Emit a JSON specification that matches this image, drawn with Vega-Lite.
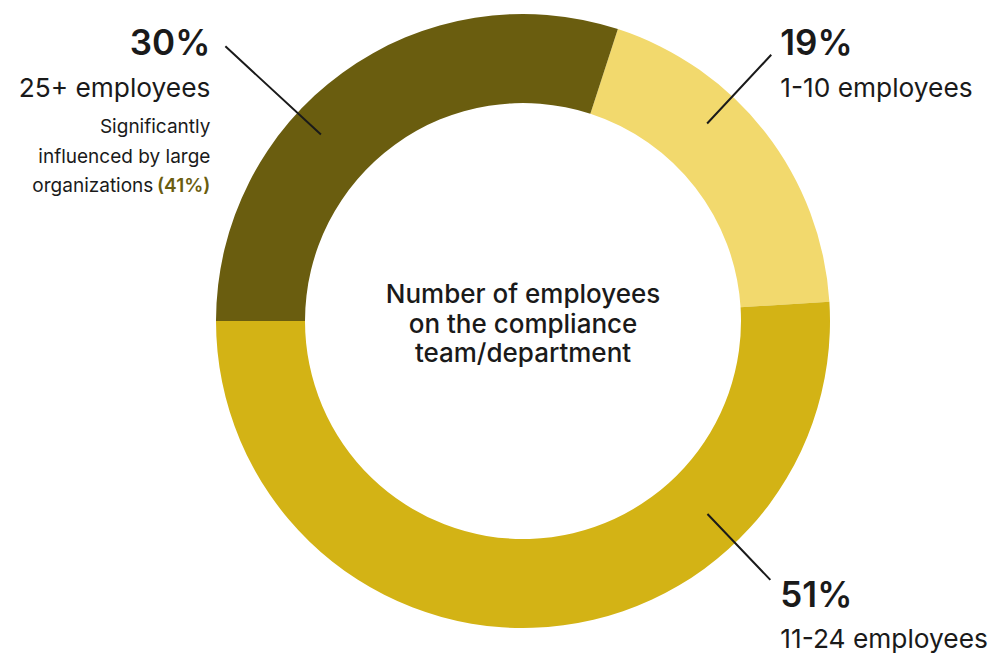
{
  "$schema": "https://vega.github.io/schema/vega-lite/v6.json",
  "autosize": {"type": "none"},
  "width": 934,
  "height": 642,
  "padding": {"left": 56, "top": 0, "right": 1, "bottom": 12},
  "background": "white",
  "config": {"view": {"stroke": null}, "text": {"font": "Inter", "color": "#1a1a1a"}},
  "data": {
    "values": [
      {"group": "1-10 employees", "share": 0.19, "order": 1},
      {"group": "11-24 employees", "share": 0.51, "order": 2},
      {"group": "25+ employees", "share": 0.30, "order": 3, "note": ["Significantly", "influenced by large"], "noteEnd": "organizations", "noteShare": "(41%)"}
    ]
  },
  "transform": [
    {"stack": "share", "groupby": [], "sort": [{"field": "order", "order": "ascending"}], "as": ["start", "end"]}
  ],
  "layer": [
    {
      "mark": {"type": "arc", "innerRadius": 218, "outerRadius": 307},
      "encoding": {
        "theta": {"field": "start", "type": "quantitative", "scale": {"domain": [0, 1], "range": [0.31416, 6.59734]}},
        "theta2": {"field": "end"},
        "color": {"field": "group", "type": "nominal", "legend": null,
          "scale": {"domain": ["1-10 employees", "11-24 employees", "25+ employees"], "range": ["#F2D96D", "#D3B315", "#6A5D0F"]}}
      }
    },
    {
      "transform": [{"filter": "datum.group == '1-10 employees'"}],
      "mark": {"type": "arc", "filled": false, "color": "#1a1a1a", "strokeWidth": 2, "thetaOffset": 0.4363, "theta2Offset": 0.4363, "innerRadius": 270, "outerRadius": 364},
      "encoding": {"theta": {"field": "start", "type": "quantitative"}, "theta2": {"field": "start"}}
    },
    {
      "transform": [{"filter": "datum.group == '11-24 employees'"}],
      "mark": {"type": "arc", "filled": false, "color": "#1a1a1a", "strokeWidth": 2, "thetaOffset": 0.8709, "theta2Offset": 0.8709, "innerRadius": 267, "outerRadius": 358},
      "encoding": {"theta": {"field": "start", "type": "quantitative"}, "theta2": {"field": "start"}}
    },
    {
      "transform": [{"filter": "datum.group == '25+ employees'"}],
      "mark": {"type": "arc", "filled": false, "color": "#1a1a1a", "strokeWidth": 2, "thetaOffset": 0.7453, "theta2Offset": 0.7453, "innerRadius": 275, "outerRadius": 405},
      "encoding": {"theta": {"field": "start", "type": "quantitative"}, "theta2": {"field": "start"}}
    },
    {
      "transform": [{"filter": "datum.group == '1-10 employees'"}],
      "mark": {"type": "text", "thetaOffset": 0.4363, "radius": 364, "dx": 9, "dy": 0, "align": "left", "baseline": "alphabetic", "fontSize": 35, "fontWeight": 600},
      "encoding": {"theta": {"field": "start", "type": "quantitative"}, "text": {"field": "share", "type": "quantitative", "format": ".0%"}}
    },
    {
      "transform": [{"filter": "datum.group == '1-10 employees'"}],
      "mark": {"type": "text", "thetaOffset": 0.4363, "radius": 364, "dx": 9, "dy": 42, "align": "left", "baseline": "alphabetic", "fontSize": 26.3, "fontWeight": 400},
      "encoding": {"theta": {"field": "start", "type": "quantitative"}, "text": {"field": "group", "type": "nominal"}}
    },
    {
      "transform": [{"filter": "datum.group == '11-24 employees'"}],
      "mark": {"type": "text", "thetaOffset": 0.8709, "radius": 358, "dx": 10, "dy": 27, "align": "left", "baseline": "alphabetic", "fontSize": 35, "fontWeight": 600},
      "encoding": {"theta": {"field": "start", "type": "quantitative"}, "text": {"field": "share", "type": "quantitative", "format": ".0%"}}
    },
    {
      "transform": [{"filter": "datum.group == '11-24 employees'"}],
      "mark": {"type": "text", "thetaOffset": 0.8709, "radius": 358, "dx": 10, "dy": 68, "align": "left", "baseline": "alphabetic", "fontSize": 26.3, "fontWeight": 400},
      "encoding": {"theta": {"field": "start", "type": "quantitative"}, "text": {"field": "group", "type": "nominal"}}
    },
    {
      "transform": [{"filter": "datum.group == '25+ employees'"}],
      "mark": {"type": "text", "thetaOffset": 0.7453, "radius": 405, "dx": -15, "dy": 9, "align": "right", "baseline": "alphabetic", "fontSize": 35, "fontWeight": 600},
      "encoding": {"theta": {"field": "start", "type": "quantitative"}, "text": {"field": "share", "type": "quantitative", "format": ".0%"}}
    },
    {
      "transform": [{"filter": "datum.group == '25+ employees'"}],
      "mark": {"type": "text", "thetaOffset": 0.7453, "radius": 405, "dx": -15, "dy": 51, "align": "right", "baseline": "alphabetic", "fontSize": 26.3, "fontWeight": 400},
      "encoding": {"theta": {"field": "start", "type": "quantitative"}, "text": {"field": "group", "type": "nominal"}}
    },
    {
      "transform": [{"filter": "datum.group == '25+ employees'"}],
      "mark": {"type": "text", "thetaOffset": 0.7453, "radius": 405, "dx": -15, "dy": 87, "align": "right", "baseline": "alphabetic", "fontSize": 19, "fontWeight": 400, "lineHeight": 29.5},
      "encoding": {"theta": {"field": "start", "type": "quantitative"}, "text": {"field": "note", "type": "nominal"}}
    },
    {
      "transform": [{"filter": "datum.group == '25+ employees'"}],
      "mark": {"type": "text", "thetaOffset": 0.7453, "radius": 405, "dx": -72, "dy": 146, "align": "right", "baseline": "alphabetic", "fontSize": 19, "fontWeight": 400},
      "encoding": {"theta": {"field": "start", "type": "quantitative"}, "text": {"field": "noteEnd", "type": "nominal"}}
    },
    {
      "transform": [{"filter": "datum.group == '25+ employees'"}],
      "mark": {"type": "text", "thetaOffset": 0.7453, "radius": 405, "dx": -15, "dy": 146, "align": "right", "baseline": "alphabetic", "fontSize": 19, "fontWeight": 600, "color": "#6A5D0F"},
      "encoding": {"theta": {"field": "start", "type": "quantitative"}, "text": {"field": "noteShare", "type": "nominal"}}
    },
    {
      "data": {"values": [{"caption": ["Number of employees", "on the compliance", "team/department"]}]},
      "mark": {"type": "text", "align": "center", "baseline": "alphabetic", "dy": -18, "fontSize": 26, "fontWeight": 500, "lineHeight": 29.5},
      "encoding": {"text": {"field": "caption", "type": "nominal"}}
    }
  ]
}
